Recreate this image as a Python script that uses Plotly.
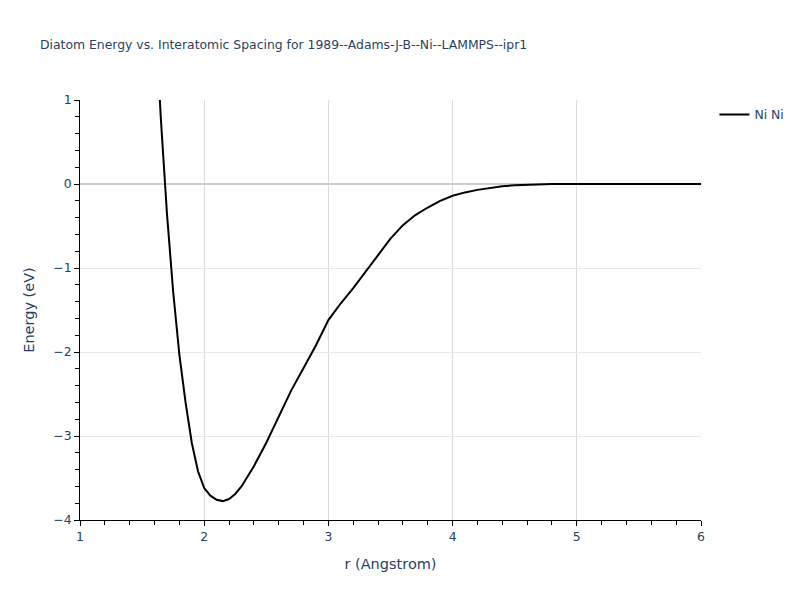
import plotly.graph_objects as go

r_vals = [1.6, 1.65, 1.7, 1.75, 1.8, 1.85, 1.9, 1.95, 2.0, 2.05, 2.1, 2.15, 2.2, 2.25,
          2.3, 2.35, 2.4, 2.5, 2.6, 2.7, 2.8, 2.9, 3.0, 3.1, 3.2, 3.3, 3.4, 3.5, 3.6,
          3.7, 3.8, 3.9, 4.0, 4.1, 4.2, 4.3, 4.4, 4.5, 4.6, 4.7, 4.8, 5.0, 5.5, 6.0]
energy = [2.2, 0.8, -0.35, -1.28, -2.03, -2.6, -3.08, -3.42, -3.62, -3.71, -3.76, -3.775,
          -3.75, -3.69, -3.6, -3.48, -3.36, -3.08, -2.77, -2.46, -2.19, -1.92, -1.62,
          -1.42, -1.24, -1.04, -0.85, -0.65, -0.49, -0.37, -0.28, -0.20, -0.14, -0.10,
          -0.07, -0.045, -0.028, -0.015, -0.007, -0.002, 0.0, 0.0, 0.0, 0.0]

fig = go.Figure()
fig.add_trace(go.Scatter(x=r_vals, y=energy, mode="lines", name="Ni Ni",
                         line=dict(color="black", width=2)))

fig.update_layout(
    width=792, height=592,
    template="plotly_white",
    title=dict(text="Diatom Energy vs. Interatomic Spacing for 1989--Adams-J-B--Ni--LAMMPS--ipr1",
               font=dict(size=12.4), x=0.0404, xanchor="left", y=0.946, yanchor="top"),
    margin=dict(l=72, r=98, t=92, b=80),
    showlegend=True,
    legend=dict(x=1.02, y=1, font=dict(size=12.4)),
    font=dict(color="#2a3f5f", family="DejaVu Sans", size=12.4),
)
fig.update_xaxes(
    title=dict(text="r (Angstrom)", font=dict(size=14.5)),
    range=[1, 6], dtick=1, showline=True, linecolor="black", linewidth=1,
    ticks="outside", ticklen=5, tickcolor="black",
    minor=dict(ticks="outside", dtick=0.2, ticklen=4, tickcolor="black", showgrid=False),
    showgrid=True, gridcolor="#dcdcdc", zeroline=False,
)
fig.update_yaxes(
    title=dict(text="Energy (eV)", font=dict(size=14.5)),
    range=[-4, 1], dtick=1, showline=True, linecolor="black", linewidth=1,
    ticks="outside", ticklen=5, tickcolor="black",
    minor=dict(ticks="outside", dtick=0.2, ticklen=4, tickcolor="black", showgrid=False),
    showgrid=True, gridcolor="#e8e8e8",
    zeroline=True, zerolinecolor="#cccccc", zerolinewidth=2,
)

fig.write_html("out.html")
